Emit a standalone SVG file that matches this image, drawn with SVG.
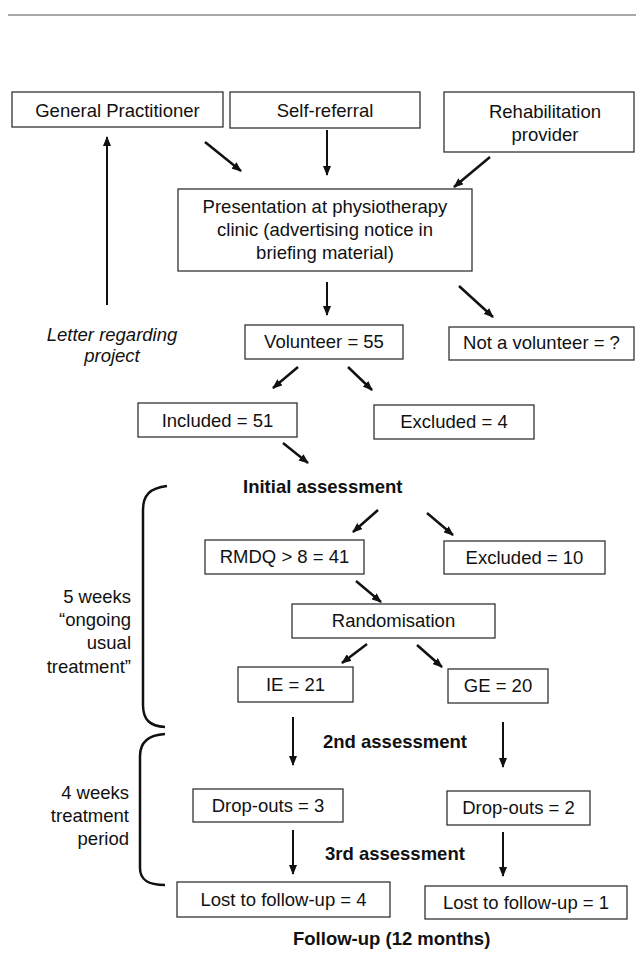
<svg xmlns="http://www.w3.org/2000/svg" width="636" height="955" viewBox="0 0 636 955">
<defs>
<marker id="ah" viewBox="0 0 10 8" refX="9" refY="4" markerWidth="10" markerHeight="8" markerUnits="userSpaceOnUse" orient="auto">
<path d="M0,0 L10,4 L0,8 z" fill="#111"/>
</marker>
<style>
.box rect{fill:#fff;stroke:#333;stroke-width:1.3}
text{font-family:"Liberation Sans",Arial,Helvetica,sans-serif;font-size:18.5px;fill:#111}
.c{text-anchor:middle}
.r{text-anchor:end}
.b{font-weight:bold}
.i{font-style:italic}
#connectors line{stroke:#111;stroke-width:2.5;marker-end:url(#ah)}
#connectors line.v{stroke-width:2}
.brace{fill:none;stroke:#111;stroke-width:2.5}
</style>
</defs>
<rect width="636" height="955" fill="#fff"/>
<line x1="8" y1="15" x2="636" y2="15" stroke="#555" stroke-width="1.2"/>

<g id="gp" class="box"><rect x="12" y="92" width="211" height="35"/><text class="c" x="117.5" y="117">General Practitioner</text></g>
<g id="self" class="box"><rect x="230" y="92" width="190" height="36"/><text class="c" x="325" y="117">Self-referral</text></g>
<g id="rehab" class="box"><rect x="444" y="92" width="190" height="60"/><text class="c" x="545" y="118">Rehabilitation</text><text class="c" x="545" y="141">provider</text></g>
<g id="presentation" class="box"><rect x="178" y="189" width="294" height="82"/><text class="c" x="325" y="213">Presentation at physiotherapy</text><text class="c" x="325" y="236">clinic (advertising notice in</text><text class="c" x="325" y="259">briefing material)</text></g>
<g id="volunteer" class="box"><rect x="245" y="325" width="158" height="34"/><text class="c" x="324" y="348">Volunteer = 55</text></g>
<g id="notvolunteer" class="box"><rect x="449" y="327" width="185" height="33"/><text class="c" x="541.5" y="349">Not a volunteer = ?</text></g>
<g id="included" class="box"><rect x="138" y="403" width="159" height="34"/><text class="c" x="217.5" y="427">Included = 51</text></g>
<g id="excluded4" class="box"><rect x="374" y="405" width="160" height="34"/><text class="c" x="454" y="428">Excluded = 4</text></g>
<g id="rmdq" class="box"><rect x="205" y="540" width="159" height="34"/><text class="c" x="284.5" y="563">RMDQ &gt; 8 = 41</text></g>
<g id="excluded10" class="box"><rect x="444" y="541" width="161" height="33"/><text class="c" x="524.5" y="564">Excluded = 10</text></g>
<g id="random" class="box"><rect x="292" y="604" width="203" height="34"/><text class="c" x="393.5" y="627">Randomisation</text></g>
<g id="ie" class="box"><rect x="238" y="667" width="115" height="35"/><text class="c" x="295.5" y="691">IE = 21</text></g>
<g id="ge" class="box"><rect x="448" y="669" width="100" height="34"/><text class="c" x="498" y="692">GE = 20</text></g>
<g id="drop3" class="box"><rect x="193" y="789" width="150" height="33"/><text class="c" x="268" y="812">Drop-outs = 3</text></g>
<g id="drop2" class="box"><rect x="447" y="791" width="143" height="34"/><text class="c" x="518.5" y="814">Drop-outs = 2</text></g>
<g id="lost4" class="box"><rect x="177" y="882" width="213" height="35"/><text class="c" x="283.5" y="906">Lost to follow-up = 4</text></g>
<g id="lost1" class="box"><rect x="425" y="886" width="202" height="33"/><text class="c" x="526" y="909">Lost to follow-up = 1</text></g>

<g id="letter"><text class="c i" x="112" y="341">Letter regarding</text><text class="c i" x="112" y="362">project</text></g>
<g id="initial"><text class="b" x="243" y="493">Initial assessment</text></g>
<g id="second"><text class="b" x="323" y="748">2nd assessment</text></g>
<g id="third"><text class="b" x="325" y="860">3rd assessment</text></g>
<g id="followup"><text class="b" x="293" y="945">Follow-up (12 months)</text></g>
<g id="fiveweeks"><text class="r" x="131" y="603">5 weeks</text><text class="r" x="131" y="626">“ongoing</text><text class="r" x="131" y="649">usual</text><text class="r" x="131" y="673">treatment”</text></g>
<g id="fourweeks"><text class="r" x="129" y="799">4 weeks</text><text class="r" x="129" y="822">treatment</text><text class="r" x="129" y="845">period</text></g>

<g id="braces">
<path class="brace" d="M167,486 C150,488 143,495 143,510 L143,705 C143,720 150,726 165,727"/>
<path class="brace" d="M165,734 C148,735 140,742 140,756 L140,868 C140,880 148,885 165,885"/>
</g>

<g id="connectors">
<line class="v" x1="107" y1="305" x2="107" y2="137"/>
<line x1="205" y1="142" x2="241" y2="171"/>
<line class="v" x1="327" y1="130" x2="327" y2="175"/>
<line x1="490" y1="157" x2="454" y2="187"/>
<line class="v" x1="327" y1="282" x2="327" y2="315"/>
<line x1="459" y1="286" x2="493" y2="317"/>
<line x1="298" y1="367" x2="273" y2="388"/>
<line x1="348" y1="367" x2="372" y2="390"/>
<line x1="283" y1="443" x2="308" y2="463"/>
<line x1="378" y1="510" x2="353" y2="532"/>
<line x1="427" y1="513" x2="453" y2="535"/>
<line x1="356" y1="581" x2="381" y2="602"/>
<line x1="367" y1="644" x2="342" y2="663"/>
<line x1="417" y1="645" x2="442" y2="667"/>
<line class="v" x1="293" y1="717" x2="293" y2="765"/>
<line class="v" x1="503" y1="722" x2="503" y2="767"/>
<line class="v" x1="293" y1="830" x2="293" y2="874"/>
<line class="v" x1="503" y1="832" x2="503" y2="876"/>
</g>
</svg>
